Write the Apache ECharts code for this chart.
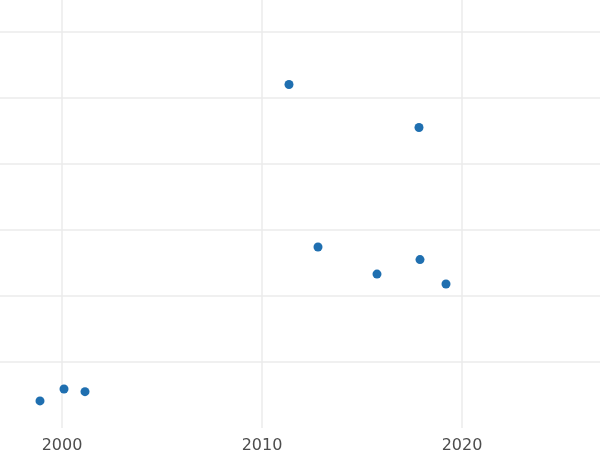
<!DOCTYPE html>
<html>
<head>
<meta charset="utf-8">
<script src="https://cdn.jsdelivr.net/npm/echarts@6/dist/echarts.min.js"></script>
<style>html,body{margin:0;padding:0;background:#fff}#chart{width:600px;height:450px}</style>
</head>
<body>
<div id="chart"></div>
<script>
// points (x = year, y = relative units)
var years = [1998.9, 2000.1, 2001.15, 2011.35, 2012.8, 2015.75, 2017.85, 2017.9, 2019.2];
var values = [0.41, 0.59, 0.55, 5.20, 2.74, 2.33, 4.55, 2.55, 2.18];

var data = [];
for (var i = 0; i < years.length; i++) {
	data.push([years[i], values[i]]);
}

var myChart = echarts.init(document.getElementById('chart'));
var option = {
	animation: false,
	grid: { left: -138, right: -62, top: 0, bottom: 22, outerBoundsMode: 'none', containLabel: false },
	xAxis: {
		type: 'value',
		min: 1990, max: 2030, interval: 10,
		axisLine: { show: false },
		axisTick: { show: false },
		axisLabel: {
			color: '#4d4d4d', fontSize: 16, fontFamily: 'DejaVu Sans', margin: 10,
			formatter: function (v) { return String(v); }
		},
		splitLine: { lineStyle: { color: '#ebebeb', width: 1.5 } }
	},
	yAxis: {
		type: 'value',
		min: 0, max: 6.48, interval: 1,
		axisLine: { show: false },
		axisTick: { show: false },
		axisLabel: { show: false },
		splitLine: { showMinLine: false, showMaxLine: false, lineStyle: { color: '#ebebeb', width: 1.5 } }
	},
	series: [{
		type: 'scatter',
		symbolSize: 9,
		itemStyle: { color: '#1f6fb0', opacity: 1 },
		data: data
	}]
};
myChart.setOption(option);
</script>
</body>
</html>
